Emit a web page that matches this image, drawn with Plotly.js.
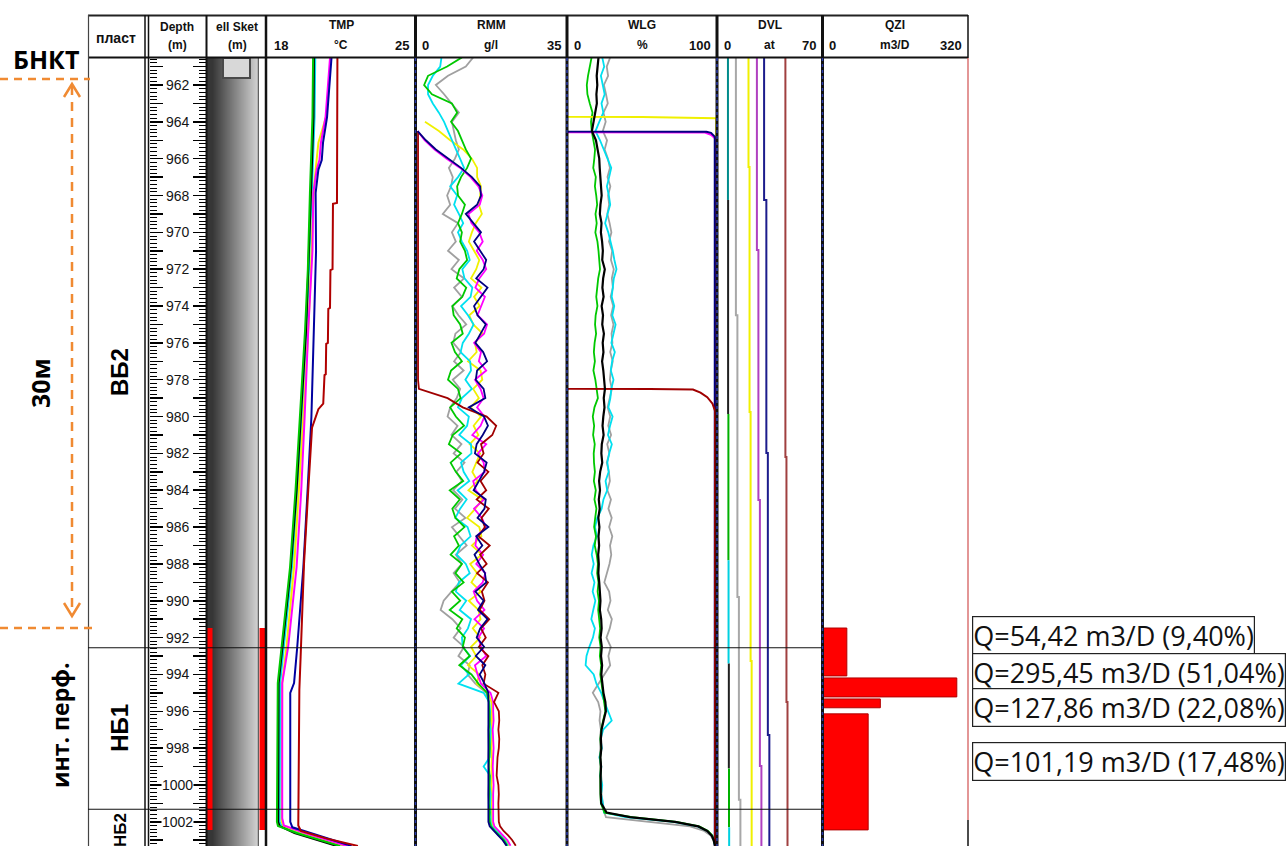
<!DOCTYPE html>
<html><head><meta charset="utf-8">
<script src="https://cdn.plot.ly/plotly-3.0.1.min.js"></script>
<style>html,body{margin:0;padding:0;background:#fff;} #chart{width:1287px;height:846px;}</style>
</head><body><div id="chart"></div>
<script>
// ---------------- DATA ----------------
const DEPTH_GRID = [960.5,961,961.5,962,962.5,963,963.5,964,964.5,965,
965.5,966,966.5,967,967.5,968,968.5,969,969.5,970,
970.5,971,971.5,972,972.5,973,973.5,974,974.5,975,
975.5,976,976.5,977,977.5,978,978.5,979,979.5,980,
980.5,981,981.5,982,982.5,983,983.5,984,984.5,985,
985.5,986,986.5,987,987.5,988,988.5,989,989.5,990,
990.5,991,991.5,992,992.5,993,993.5,994,994.5,995,
995.5,996,996.5,997,997.5,998,998.5,999,999.5,1000,
1000.5,1001,1001.5,1001.75,1002,1002.25,1002.5,1002.75,1003,1003.3];

// TMP (°C)
const TMP_GREEN_D = [960.534,963.74,967.86,972.04,975.3,980.02,983.99,988.17,992.51,994.47,1002.01,1002.23,1002.61,1003.314];
const TMP_GREEN_T = [20.18,20.15,20.03,19.93,19.80,19.56,19.35,19.09,18.70,18.51,18.47,18.52,19.40,21.45];
const TMP_BLACK_T = [20.22,20.20,20.08,19.97,19.85,19.60,19.40,19.13,18.75,18.55,18.53,18.60,19.30,21.30];
const TMP_CYAN_T  = [20.28,20.25,20.12,20.00,19.88,19.65,19.45,19.18,18.80,18.62,18.60,18.70,19.60,21.60];
const TMP_YELLOW_D = [963.74,965.13,966.6,967.86,972.04,976.0,980.02,984.0,988.17,992.51,994.47,1002.0,1002.23,1002.61,1003.314];
const TMP_YELLOW_T = [20.79,20.43,20.30,20.20,20.08,19.92,19.72,19.50,19.28,18.92,18.72,18.70,18.78,19.70,21.70];
const TMP_MAGENTA_D = [960.534,963.74,965.13,966.07,966.6,967.86,971.0,975.3,980.02,984.0,988.17,992.51,994.47,1001.8,1002.2,1002.61,1003.314];
const TMP_MAGENTA_T = [20.98,20.77,20.55,20.48,20.35,20.19,20.15,19.95,19.78,19.62,19.40,19.00,18.72,18.72,18.80,19.80,21.80];
const TMP_BLUE_D = [960.534,963.74,965.13,966.07,966.6,967.86,971.0,975.3,980.02,984.0,988.17,992.51,994.47,995.0,1002.0,1002.3,1002.7,1003.314];
const TMP_BLUE_T = [21.05,20.84,20.65,20.59,20.43,20.30,20.32,20.22,20.10,19.92,19.72,19.43,19.28,19.10,19.10,19.20,20.30,22.00];
const TMP_RED_D = [960.534,968.4,968.45,972.0,972.05,974.1,974.15,976.0,976.05,977.7,977.75,979.3,979.6,980.2,980.6,984.0,988.0,993.05,994.84,1002.2,1002.5,1002.9,1003.314];
const TMP_RED_T = [21.33,21.31,21.12,21.10,21.00,20.98,20.90,20.88,20.80,20.78,20.72,20.66,20.43,20.24,20.13,19.95,19.75,19.59,19.53,19.48,19.60,20.80,22.30];

// RMM (g/l) on DEPTH_GRID
const RMM_GREEN = [10.8,7.4,3.0,2.1,3.9,8.5,9.7,8.3,9.9,10.8,
11.7,12.9,12.0,10.6,9.7,9.9,11.5,10.8,9.9,10.8,
10.4,11.5,12.0,10.2,9.6,11.8,10.9,8.6,8.9,10.4,
11.0,8.4,9.2,10.8,8.3,7.6,9.9,10.5,8.1,9.4,
11.3,8.7,7.8,10.6,8.2,9.4,11.1,8.0,10.3,8.6,
9.3,11.4,9.0,10.1,8.2,10.8,9.3,11.2,8.5,10.4,
8.0,10.9,9.6,11.5,11.0,12.6,10.2,13.0,14.6,16.6,
17.0,17.1,17.2,17.0,17.1,17.2,17.1,17.0,17.2,17.1,
17.1,17.0,17.2,17.1,17.2,17.5,18.4,19.5,20.5,21.2];
const RMM_CYAN = [6.1,5.8,4.1,3.0,3.0,4.1,5.5,6.7,7.6,8.5,
9.4,10.4,11.3,9.9,8.1,9.7,9.0,10.1,11.1,9.9,
10.8,12.0,12.6,10.9,11.4,13.2,12.8,10.6,12.2,13.5,
12.4,11.0,10.5,12.7,12.9,11.6,13.1,10.8,9.9,12.4,
12.0,10.2,12.9,13.0,10.6,11.2,12.5,9.8,11.9,10.4,
9.3,12.1,12.8,10.5,9.6,11.7,12.6,10.1,9.4,11.8,
10.3,12.9,12.2,10.8,11.0,12.7,10.6,12.4,10.0,15.8,
17.1,17.3,17.2,17.4,17.3,17.3,17.2,15.8,17.3,17.2,
17.4,17.3,17.3,17.3,17.4,17.7,18.6,19.7,20.7,21.4];
const RMM_GREY = [13.4,11.7,7.6,4.8,6.7,8.5,10.1,8.5,9.0,9.4,
10.1,9.2,7.8,8.7,8.3,7.4,8.1,6.4,9.9,8.5,
9.4,7.6,10.1,8.4,11.3,9.0,10.8,8.6,10.0,11.8,
9.3,8.8,10.6,9.0,11.2,8.7,10.4,9.6,8.1,7.5,
9.8,8.4,10.7,8.9,11.4,9.5,10.8,8.8,10.9,9.2,
11.6,8.5,10.2,11.9,9.4,10.8,8.9,10.3,8.4,6.6,
5.9,8.6,10.5,8.9,11.3,10.0,12.6,12.1,13.9,16.4,
17.0,17.0,17.1,16.9,17.0,17.0,16.9,17.0,17.1,17.0,
16.9,17.0,17.0,17.0,17.0,17.3,18.2,19.3,20.3,21.0];
const RMM_YELLOW = [null,null,null,null,null,null,null,2.3,5.5,8.1,
11.1,13.1,14.3,14.3,15.2,15.0,14.7,15.4,14.0,13.1,
12.4,13.6,14.8,14.1,12.9,15.3,13.6,14.9,12.5,13.4,
15.6,13.8,14.2,12.2,15.1,15.5,13.4,14.7,12.8,15.2,
13.5,14.6,12.6,15.0,14.1,13.2,14.4,12.3,15.5,13.9,
12.0,14.8,15.3,13.1,15.4,12.7,14.3,13.0,15.2,12.4,
14.6,15.1,13.3,15.0,12.9,14.1,12.2,14.8,14.2,16.8,
17.6,17.6,17.7,17.5,17.7,17.6,17.7,17.6,17.7,17.6,
17.7,17.6,17.7,17.6,17.7,18.0,18.9,20.0,21.0,21.7];
const RMM_MAGENTA = [null,null,null,null,null,null,null,null,0.6,2.2,
4.5,7.3,10.4,12.8,14.6,15.5,14.9,12.3,13.0,14.8,
15.6,14.2,15.6,16.4,14.8,13.9,16.1,15.3,14.4,16.6,
15.9,13.6,15.2,14.7,16.4,13.8,15.1,15.8,14.3,16.0,
15.1,13.2,16.4,14.5,15.8,16.1,13.4,14.0,15.9,13.6,
15.4,16.3,14.2,13.9,15.7,14.1,16.2,15.6,13.5,14.3,
16.0,13.7,15.9,14.6,15.2,16.4,13.8,14.4,15.2,17.4,
18.0,18.0,18.1,17.9,18.0,18.1,18.0,17.9,18.0,18.1,
18.0,18.0,18.1,18.0,18.0,18.3,19.2,20.3,21.3,22.0];
const RMM_NAVY = [null,null,null,null,null,null,null,null,0.6,2.5,
4.8,7.6,10.6,13.1,15.0,15.2,14.3,11.7,13.4,15.2,
13.6,15.0,16.4,15.8,14.1,16.7,15.2,13.6,14.4,16.3,
15.1,13.9,15.7,16.6,14.3,14.0,15.8,16.2,12.4,15.9,
16.8,15.6,14.2,13.8,16.5,15.9,14.7,13.5,16.3,16.0,
14.4,16.9,14.1,15.5,13.7,14.8,16.1,16.4,13.9,15.8,
14.5,16.7,15.0,14.2,15.9,14.0,16.2,14.9,16.0,16.9,
16.9,16.9,16.8,16.9,16.9,16.8,16.9,16.9,16.8,16.9,
16.9,16.8,16.9,16.9,16.9,17.2,18.1,19.2,20.2,21.1];
const RMM_RED = [null,null,null,null,null,null,null,null,0.7,0.7,
0.7,0.7,0.7,0.7,0.7,0.7,0.7,0.7,0.7,0.7,
0.7,0.7,0.7,0.7,0.7,0.7,0.7,0.7,0.7,0.7,
0.7,0.7,0.7,0.7,0.7,0.7,0.9,7.5,11.0,16.5,
18.7,17.8,15.2,15.8,14.4,16.9,15.1,16.4,14.2,17.0,
15.3,16.1,14.6,17.2,15.0,16.5,14.3,16.8,15.4,16.0,
14.9,17.1,15.2,16.3,14.7,16.9,15.5,16.2,15.8,19.2,
18.2,19.3,19.4,19.2,19.4,19.3,19.0,18.9,18.8,19.2,
19.3,19.2,19.3,19.3,19.3,19.6,20.4,21.5,22.4,23.2];

// WLG (%) on DEPTH_GRID
const WLG_BLACK = [21.0,20.3,19.8,20.2,19.6,19.9,18.7,17.6,16.6,19.3,
20.4,21.5,21.8,22.1,22.7,23.1,22.3,21.9,23.0,22.6,
23.4,23.9,23.5,25.2,24.1,23.6,24.4,23.1,24.0,23.5,
24.6,23.8,24.3,23.4,24.2,24.8,25.3,24.5,25.0,24.2,
23.7,24.4,23.2,22.9,23.5,22.1,21.4,22.0,21.2,21.8,
20.9,21.6,21.0,21.4,20.8,21.2,20.9,21.5,21.7,22.3,
21.9,22.8,23.1,22.4,23.2,22.7,23.4,22.9,23.6,24.3,
25.6,25.9,24.4,23.0,22.6,22.9,22.3,22.7,22.4,22.2,
22.5,22.8,26.4,42.0,72.0,87.5,93.5,96.5,97.8,98.7];
const WLG_GREEN = [16.4,15.0,14.0,13.2,13.6,15.2,17.0,16.0,16.5,17.6,
18.7,18.2,17.5,19.2,18.6,19.5,20.1,19.0,19.8,18.9,
20.3,21.0,21.6,22.0,20.8,20.1,19.5,20.3,19.1,18.7,
19.4,18.4,17.9,18.6,17.6,18.9,19.8,20.6,18.3,17.2,
18.1,17.4,18.5,17.8,18.0,18.6,17.9,19.2,18.3,19.6,
18.8,18.1,19.3,18.5,19.8,20.6,20.1,21.0,20.4,21.3,
20.8,21.6,22.1,21.5,22.4,21.9,22.8,22.2,23.1,24.0,
25.2,25.6,24.1,22.8,22.3,22.7,22.1,22.5,22.2,22.0,
22.3,22.6,25.0,43.5,73.0,88.2,94.0,97.0,98.0,98.8];
const WLG_CYAN = [23.5,24.8,22.6,23.9,25.1,23.0,24.2,21.5,19.0,22.0,
24.5,27.2,29.5,28.1,26.6,27.9,28.8,27.0,25.4,27.5,
29.2,30.5,31.6,33.0,31.2,30.4,29.8,31.5,30.2,32.4,
30.8,29.6,31.9,30.1,29.2,31.0,29.5,28.9,27.6,30.4,
28.7,27.3,29.9,28.1,26.9,27.8,25.7,26.8,24.3,23.1,
20.2,18.7,19.9,17.6,16.5,17.8,16.4,18.3,17.1,18.9,
17.5,16.2,18.6,17.3,14.9,13.0,12.4,17.8,19.6,22.8,
25.0,27.6,29.8,24.1,22.4,23.2,21.6,22.9,22.1,23.5,
22.7,23.9,24.6,39.0,71.0,87.0,93.6,96.6,97.9,98.7];
const WLG_GREY = [28.8,26.5,27.4,24.6,26.0,27.2,24.3,25.8,23.9,26.7,
25.1,27.3,28.6,27.0,28.9,27.4,28.1,26.9,28.4,29.6,
28.0,30.1,29.3,31.2,29.9,30.6,29.1,30.8,29.4,31.0,
29.7,30.3,28.8,30.5,29.2,28.6,29.9,28.3,27.1,28.8,
27.5,29.4,26.8,28.2,26.5,27.9,28.6,26.9,29.3,27.6,
29.8,28.1,30.2,28.7,29.5,28.3,26.4,24.9,28.1,29.0,
27.2,29.9,28.5,26.3,29.2,27.6,28.8,24.9,21.5,17.2,
20.8,22.3,21.7,22.6,21.9,22.2,21.8,22.4,22.9,23.3,
23.0,23.8,24.9,26.0,55.0,82.0,91.5,95.8,97.6,98.6];
const WLG_YELLOW_D = [960.534,963.72,963.74,963.80,1003.314];
const WLG_YELLOW_V = [0,0,50,99.5,99.5];
const WLG_MAGENTA_D = [960.534,964.56,964.58,964.70,964.90,1003.314];
const WLG_MAGENTA_V = [0,0,92,96,98.8,98.8];
const WLG_NAVY_D = [960.534,964.52,964.54,964.60,964.80,1003.314];
const WLG_NAVY_V = [0,0,93,96,98.5,98.5];
const WLG_RED_D = [960.534,978.49,978.50,978.53,978.70,978.95,979.3,979.7,1003.314];
const WLG_RED_V = [0,0,55,84,89,93.5,97,98.7,98.7];

// DVL (at) – step curves
const DVL_TEAL_D = [960.534,968.24];            const DVL_TEAL_V = [7.3,7.3];
const DVL_BLACK_D = [968.24,979.86,null,993.4,999.1]; const DVL_BLACK_V = [7.4,7.4,null,7.9,7.9];
const DVL_GREEN_D = [979.86,987.8,null,999.1,1002.3]; const DVL_GREEN_V = [7.6,7.6,null,8.0,8.0];
const DVL_CYAN_D = [987.8,993.4,null,1002.3,1003.314]; const DVL_CYAN_V = [7.7,7.7,null,8.1,8.1];
const DVL_GREY_D = [960.534,974.5,989.8,1000.8,1003.314];   const DVL_GREY_V = [12.6,13.6,14.6,15.6,15.6];
const DVL_YELLOW_D = [960.534,966.45,979.75,993.27,1003.314]; const DVL_YELLOW_V = [21.0,21.7,22.4,23.1,23.1];
const DVL_MAGENTA_D = [960.534,970.96,984.53,998.97,1003.314]; const DVL_MAGENTA_V = [26.6,27.6,28.6,29.6,29.6];
const DVL_NAVY_D = [960.534,968.24,981.98,997.29,1003.314];  const DVL_NAVY_V = [31.4,32.9,33.9,34.9,34.9];
const DVL_BROWN_D = [960.534,982.2,995.5,1003.314];         const DVL_BROWN_V = [45.6,46.3,47.0,47.0];

// QZI inflow intervals
const QZI_TOP = [991.48,994.19,995.33,996.14];
const QZI_BOTTOM = [994.08,995.22,995.81,1002.44];
const Q_VALUES = [54.42,295.45,127.86,101.19];
const Q_PERCENT = ['9,40','51,04','22,08','17,48'];

// Formations, perforation, labels
const ZONE_NAMES = ['ВБ2','НБ1','НБ2'];
const ZONE_BOUNDS = [992.55,1001.32];
const PERF_TOP = 991.48, PERF_BOTTOM = 1002.44;
const BNKT_DEPTH = 961.67;
const DEPTH_LABELS = [962,964,966,968,970,972,974,976,978,980,982,984,986,988,990,992,994,996,998,1000,1002];

// ---------------- LAYOUT HELPERS ----------------
const W = 1287, H = 846;
const px = v => v / W;
const py = v => 1 - v / H;
const Y_TOP = 960.534, Y_BOT = 1003.314;

const traces = [];
function line(xs, ys, axis, color, width, shape) {
  traces.push({type:'scatter', mode:'lines', x: xs, y: ys, xaxis: axis, yaxis: 'y',
    line: {color: color, width: width, shape: shape || 'linear'}, hoverinfo: 'skip', showlegend: false, connectgaps: false});
}

// well sketch gradient
traces.push({type:'heatmap', x:[5,51], y:[Y_TOP, Y_BOT], z:[[0,1],[0,1]], zsmooth:'best',
  colorscale:[[0,'#363636'],[1,'#d4d4d4']], showscale:false, xaxis:'x', yaxis:'y', hoverinfo:'skip'});

// TMP
line(TMP_CYAN_T, TMP_GREEN_D, 'x2', '#00e0f0', 2);
line(TMP_YELLOW_T, TMP_YELLOW_D, 'x2', '#f0f000', 2);
line(TMP_BLACK_T, TMP_GREEN_D, 'x2', '#000000', 2);
line(TMP_GREEN_T, TMP_GREEN_D, 'x2', '#00c800', 2);
line(TMP_MAGENTA_T, TMP_MAGENTA_D, 'x2', '#ff00ff', 2);
line(TMP_BLUE_T, TMP_BLUE_D, 'x2', '#0000a0', 2);
line(TMP_RED_T, TMP_RED_D, 'x2', '#b00000', 2);

// RMM
line(RMM_GREY, DEPTH_GRID, 'x3', '#a0a0a0', 1.8);
line(RMM_YELLOW, DEPTH_GRID, 'x3', '#f0f000', 1.8);
line(RMM_CYAN, DEPTH_GRID, 'x3', '#00e0f0', 1.8);
line(RMM_GREEN, DEPTH_GRID, 'x3', '#00c800', 1.8);
line(RMM_MAGENTA, DEPTH_GRID, 'x3', '#ff00ff', 1.8);
line(RMM_RED, DEPTH_GRID, 'x3', '#a00000', 1.8);
line(RMM_NAVY, DEPTH_GRID, 'x3', '#000080', 1.8);

// WLG
line(WLG_GREY, DEPTH_GRID, 'x4', '#a0a0a0', 1.8);
line(WLG_CYAN, DEPTH_GRID, 'x4', '#00e0f0', 1.8);
line(WLG_GREEN, DEPTH_GRID, 'x4', '#00c800', 1.8);
line(WLG_YELLOW_V, WLG_YELLOW_D, 'x4', '#f0f000', 2);
line(WLG_MAGENTA_V, WLG_MAGENTA_D, 'x4', '#ff00ff', 2);
line(WLG_NAVY_V, WLG_NAVY_D, 'x4', '#000080', 2);
line(WLG_RED_V, WLG_RED_D, 'x4', '#a00000', 2);
line(WLG_BLACK, DEPTH_GRID, 'x4', '#000000', 2.2);

// DVL
line(DVL_TEAL_V, DVL_TEAL_D, 'x5', '#008b8b', 2);
line(DVL_BLACK_V, DVL_BLACK_D, 'x5', '#202020', 2);
line(DVL_GREEN_V, DVL_GREEN_D, 'x5', '#00b000', 2);
line(DVL_CYAN_V, DVL_CYAN_D, 'x5', '#00d0e0', 2);
line(DVL_GREY_V, DVL_GREY_D, 'x5', '#a8a8a8', 2, 'vh');
line(DVL_YELLOW_V, DVL_YELLOW_D, 'x5', '#f0f000', 2, 'vh');
line(DVL_MAGENTA_V, DVL_MAGENTA_D, 'x5', '#b040c0', 2, 'vh');
line(DVL_NAVY_V, DVL_NAVY_D, 'x5', '#1c1c8c', 2, 'vh');
line(DVL_BROWN_V, DVL_BROWN_D, 'x5', '#a04040', 2, 'vh');

// QZI bars
traces.push({type:'bar', orientation:'h', x: Q_VALUES,
  y: QZI_TOP.map((t, i) => (t + QZI_BOTTOM[i]) / 2),
  width: QZI_TOP.map((t, i) => QZI_BOTTOM[i] - t), base: 0,
  xaxis:'x6', yaxis:'y', marker:{color:'#ff0000', line:{color:'#b00000', width:1}},
  hoverinfo:'skip', showlegend:false});

// dummy traces for ruler axes
traces.push({type:'scatter', x:[null], y:[null], xaxis:'x', yaxis:'y2', hoverinfo:'skip', showlegend:false});
traces.push({type:'scatter', x:[null], y:[null], xaxis:'x', yaxis:'y3', hoverinfo:'skip', showlegend:false});

// ---------------- AXES ----------------
const hidden = (l, r, range) => ({domain:[px(l), px(r)], range: range, anchor:'y', visible:false, fixedrange:true});
const rulerAxis = (pos, side) => ({overlaying:'y', anchor:'free', position: px(pos), side: side,
  range:[Y_BOT, Y_TOP], showgrid:false, zeroline:false, showticklabels:false, showline:false,
  ticks:'outside', tick0:960, dtick:1, ticklen:13, tickwidth:1.5, tickcolor:'#000',
  minor:{ticks:'outside', dtick:0.2, ticklen:7, tickwidth:1, tickcolor:'#000', showgrid:false}, fixedrange:true});

const layout = {
  width: W, height: H, margin:{l:0, r:0, t:0, b:0, pad:0},
  paper_bgcolor:'#ffffff', plot_bgcolor:'rgba(0,0,0,0)', showlegend:false, bargap:0,
  yaxis:{domain:[0, py(58)], range:[Y_BOT, Y_TOP], visible:false, fixedrange:true},
  yaxis2: rulerAxis(148.5, 'right'),
  yaxis3: rulerAxis(205.5, 'left'),
  xaxis: hidden(207, 267, [0, 60]),
  xaxis2: hidden(267, 415, [18, 25]),
  xaxis3: hidden(415, 567, [0, 35]),
  xaxis4: hidden(567, 717, [0, 100]),
  xaxis5: hidden(717, 822, [0, 70]),
  xaxis6: hidden(822, 968, [0, 320]),
  shapes: [], annotations: []
};
const S = layout.shapes, A = layout.annotations;

function vline(x, y0, y1, color, width, dash) {
  S.push({type:'line', xref:'paper', yref:'paper', x0:px(x), x1:px(x), y0:py(y0), y1:py(y1),
    line:{color:color, width:width, dash: dash || 'solid'}});
}
function hline(y, x0, x1, color, width) {
  S.push({type:'line', xref:'paper', yref:'paper', x0:px(x0), x1:px(x1), y0:py(y), y1:py(y), line:{color:color, width:width}});
}
function note(o) {
  A.push(Object.assign({showarrow:false, xanchor:'center', yanchor:'middle'}, o));
}

// well sketch decorations
S.push({type:'rect', xref:'paper', yref:'paper', x0:px(258), x1:px(265), y0:py(58), y1:py(846), fillcolor:'#ffffff', line:{width:0}});
vline(258.3, 58, 846, '#3a3a3a', 1);
S.push({type:'rect', xref:'paper', yref:'y', x0:px(223), x1:px(250), y0:Y_TOP, y1:BNKT_DEPTH - 0.05, fillcolor:'#d8d8d8', line:{color:'#4a4a4a', width:2}});
S.push({type:'rect', xref:'paper', yref:'y', x0:px(207), x1:px(212.5), y0:PERF_TOP, y1:PERF_BOTTOM, fillcolor:'#ff0000', line:{width:0}});
S.push({type:'rect', xref:'paper', yref:'y', x0:px(259.5), x1:px(265), y0:PERF_TOP, y1:PERF_BOTTOM, fillcolor:'#ff0000', line:{width:0}});

// header frame
hline(15.5, 88, 968, '#222', 2);
hline(57.5, 88, 968, '#111', 2);
// column borders
vline(88.5, 15, 846, '#444', 1.2);
vline(145, 15, 846, '#111', 1.5);
vline(148.5, 15, 846, '#111', 1.5);
vline(206.5, 15, 846, '#111', 2);
vline(266, 15, 846, '#111', 2.5);
[415.5, 567, 717, 822.5].forEach(x => {
  vline(x, 15, 846, '#111', 3);
  vline(x, 58, 846, '#2a3aa8', 1.5, 'dot');
});
vline(968, 15, 58, '#111', 1.5);
vline(968, 58, 820, '#d05050', 1.2);
vline(968, 820, 846, '#111', 1.5);

// formation boundaries
ZONE_BOUNDS.forEach(d => S.push({type:'line', xref:'paper', yref:'y', x0:px(88), x1:px(822), y0:d, y1:d, line:{color:'#111', width:1.2}}));

// depth labels
DEPTH_LABELS.forEach(d => note({xref:'paper', yref:'y', x:px(177.5), y:d, text:String(d),
  font:{family:'Liberation Sans', size:14, color:'#151515'}, bgcolor:'#ffffff', borderpad:0}));

// orange annotation lines / arrow
const OR = '#F08A32';
S.push({type:'line', xref:'paper', yref:'y', x0:0, x1:px(90), y0:BNKT_DEPTH, y1:BNKT_DEPTH, line:{color:OR, width:2.5, dash:'8px,6px'}});
S.push({type:'line', xref:'paper', yref:'y', x0:0, x1:px(92), y0:PERF_TOP, y1:PERF_TOP, line:{color:OR, width:2.5, dash:'8px,6px'}});
vline(72, 86, 614, OR, 2.5, '9px,7px');
const chev = pts => 'M ' + pts.map(p => px(p[0]) + ',' + py(p[1])).join(' L ');
S.push({type:'path', xref:'paper', yref:'paper', path: chev([[64,97],[72,84],[80,97]]), line:{color:OR, width:2.5}});
S.push({type:'path', xref:'paper', yref:'paper', path: chev([[64,603],[72,616],[80,603]]), line:{color:OR, width:2.5}});

// left texts
const bold = (t) => '<b>' + t + '</b>';
note({xref:'paper', yref:'paper', x:px(46), y:py(59), text:bold('БНКТ'), font:{family:'Open Sans', size:25, color:'#000'}});
note({xref:'paper', yref:'paper', x:px(40), y:py(383), text:bold('30м'), textangle:-90, font:{family:'Open Sans', size:25, color:'#000'}});
note({xref:'paper', yref:'paper', x:px(60), y:py(726), text:bold('инт. перф.'), textangle:-90, font:{family:'Open Sans', size:23, color:'#000'}});

// zone labels
const ZONE_LABEL_DEPTH = [977.58, 996.9, 1002.45];
const ZONE_LABEL_SIZE = [24, 24, 17];
ZONE_NAMES.forEach((z, i) => note({xref:'paper', yref:'y', x:px(120), y:ZONE_LABEL_DEPTH[i], text:bold(z), textangle:-90,
  font:{family:'Liberation Sans', size:ZONE_LABEL_SIZE[i], color:'#000'}}));

// header texts
const HF = {family:'Liberation Sans', size:12, color:'#111'};
function htext(x, y, t, size, anchor) {
  note({xref:'paper', yref:'paper', x:px(x), y:py(y), text:bold(t), xanchor: anchor || 'center',
    font:Object.assign({}, HF, size ? {size:size} : {})});
}
htext(116, 38, 'пласт', 14);
htext(177, 27, 'Depth'); htext(177, 45, '(m)');
htext(237, 27, 'ell Sket'); htext(237, 45, '(m)');
const TRACKS = [
  {name:'TMP', unit:'°C', min:'18', max:'25', l:267, r:415},
  {name:'RMM', unit:'g/l', min:'0', max:'35', l:415, r:567},
  {name:'WLG', unit:'%', min:'0', max:'100', l:567, r:717},
  {name:'DVL', unit:'at', min:'0', max:'70', l:717, r:822},
  {name:'QZI', unit:'m3/D', min:'0', max:'320', l:822, r:968}
];
TRACKS.forEach(t => {
  const c = (t.l + t.r) / 2;
  htext(c, 25, t.name);
  htext(c, 45, t.unit);
  htext(t.l + 5, 45, t.min, 13, 'left');
  htext(t.r - 4, 45, t.max, 13, 'right');
});

// Q result boxes
const LABEL_DEPTH = [991.86, 993.87, 995.82, 998.75];
Q_VALUES.forEach((q, i) => {
  note({xref:'paper', yref:'y', x:px(972), y:LABEL_DEPTH[i], xanchor:'left',
    text:'Q=' + q.toFixed(2).replace('.', ',') + ' m3/D (' + Q_PERCENT[i] + '%)',
    font:{family:'Open Sans', size:27, color:'#111'},
    bgcolor:'#ffffff', bordercolor:'#222', borderwidth:1.2, borderpad:0});
});

Plotly.newPlot('chart', traces, layout, {staticPlot:true, displayModeBar:false});
</script></body></html>
